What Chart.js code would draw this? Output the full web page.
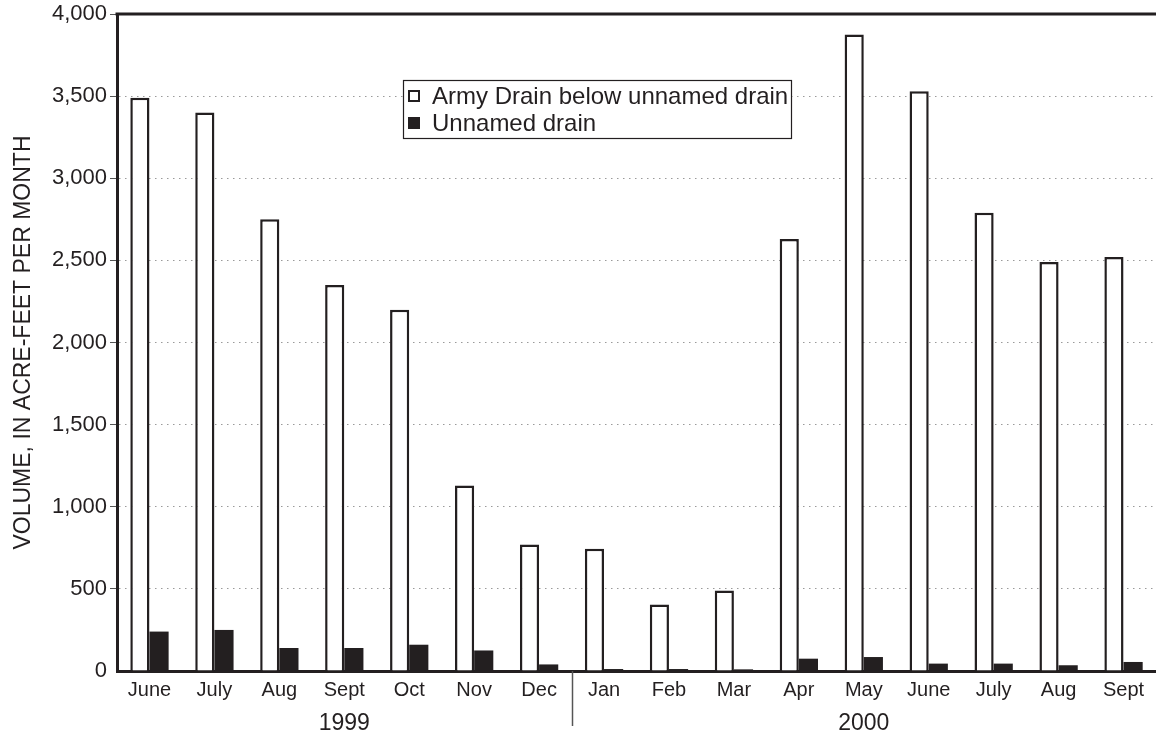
<!DOCTYPE html>
<html>
<head>
<meta charset="utf-8">
<script src="https://cdn.jsdelivr.net/npm/chart.js@4.4.1/dist/chart.umd.min.js"></script>
<style>
  html, body { margin: 0; padding: 0; background: #fff; }
  #wrap { width: 1156px; height: 738px; }
</style>
</head>
<body>
<div id="wrap"><canvas id="chart" width="1156" height="738"></canvas></div>
<script>
// monthly volumes, acre-feet, June 1999 - Sept 2000
const months = ['June', 'July', 'Aug', 'Sept', 'Oct', 'Nov', 'Dec',
  'Jan', 'Feb', 'Mar', 'Apr', 'May', 'June', 'July', 'Aug', 'Sept'];
const years = ['1999', '2000'];
const monthsPerYear = [7, 9];
const armyDrain = [3490, 3400, 2750, 2350, 2200, 1130, 770,
  745, 405, 490, 2630, 3875, 3530, 2790, 2490, 2520];
const unnamedDrain = [240, 250, 140, 140, 160, 125, 40,
  12, 12, 10, 75, 85, 45, 45, 35, 55];
const yMax = 4000;
const yStep = 500;

const FONT = "'Liberation Sans', Arial, Helvetica, sans-serif";
const INK = '#231f20';

const decorations = {
  id: 'decorations',
  afterDraw(chart) {
    const { ctx, chartArea, scales: { x } } = chart;
    ctx.save();

    // heavy line along the top of the plot
    ctx.strokeStyle = INK;
    ctx.lineWidth = 3;
    ctx.beginPath();
    ctx.moveTo(chartArea.left - 1.5, chartArea.top);
    ctx.lineTo(chart.width, chartArea.top);
    ctx.stroke();

    // year labels under the months, with a divider between years
    ctx.font = '23px ' + FONT;
    ctx.fillStyle = INK;
    ctx.textAlign = 'center';
    ctx.textBaseline = 'middle';
    let start = 0;
    years.forEach((yr, i) => {
      const end = start + monthsPerYear[i] - 1;
      const cx = (x.getPixelForValue(start) + x.getPixelForValue(end)) / 2;
      ctx.fillText(yr, cx, 724);
      if (i > 0) {
        const sx = Math.round((x.getPixelForValue(start - 1) + x.getPixelForValue(start)) / 2) + 0.5;
        ctx.strokeStyle = '#555';
        ctx.lineWidth = 1.5;
        ctx.beginPath();
        ctx.moveTo(sx, chartArea.bottom);
        ctx.lineTo(sx, 726);
        ctx.stroke();
      }
      start = end + 1;
    });

    // legend box
    const ds = chart.data.datasets;
    ctx.font = '24px ' + FONT;
    ctx.textAlign = 'left';
    const textX = 432;
    const widest = Math.max(...ds.map(d => ctx.measureText(d.label).width));
    const boxL = 403.5, boxT = 80.5;
    const boxR = Math.round(textX + widest + 3) + 0.5, boxB = 138.5;
    ctx.fillStyle = '#fff';
    ctx.fillRect(boxL, boxT, boxR - boxL, boxB - boxT);
    ctx.strokeStyle = INK;
    ctx.lineWidth = 1.2;
    ctx.strokeRect(boxL, boxT, boxR - boxL, boxB - boxT);
    const rows = [96, 123];
    ds.forEach((d, i) => {
      const cy = rows[i];
      if (d.backgroundColor === '#fff') {
        ctx.lineWidth = 2;
        ctx.strokeRect(409, cy - 5, 10, 10);
      } else {
        ctx.fillStyle = INK;
        ctx.fillRect(408, cy - 6, 12, 12);
      }
      ctx.fillStyle = INK;
      ctx.fillText(d.label, textX, cy + 1);
    });
    ctx.restore();
  }
};

new Chart(document.getElementById('chart'), {
  type: 'bar',
  data: {
    labels: months,
    datasets: [
      {
        label: 'Army Drain below unnamed drain',
        data: armyDrain,
        backgroundColor: '#fff',
        borderColor: INK,
        borderWidth: 2.5,
        categoryPercentage: 0.59,
        barPercentage: 1.0,
      },
      {
        label: 'Unnamed drain',
        data: unnamedDrain,
        backgroundColor: INK,
        borderWidth: 0,
        categoryPercentage: 0.59,
        barPercentage: 1.0,
      },
    ],
  },
  options: {
    responsive: false,
    animation: false,
    devicePixelRatio: 1,
    layout: { padding: { top: 14, left: 0, right: 0, bottom: 0 } },
    plugins: {
      legend: { display: false },
      tooltip: { enabled: false },
    },
    scales: {
      x: {
        z: 1,
        grid: { display: false, drawTicks: false },
        border: { color: INK, width: 3 },
        ticks: {
          color: INK,
          font: { family: FONT, size: 20 },
          padding: 7,
          autoSkip: false,
          maxRotation: 0,
        },
        afterFit(scale) {
          scale.height = 67;
          scale.paddingLeft = 0;
          scale.paddingRight = 0;
        },
      },
      y: {
        min: 0,
        max: yMax,
        grid: {
          color: (c) => (c.tick && (c.tick.value === 0 || c.tick.value === yMax)) ? 'rgba(0,0,0,0)' : '#9a9a9a',
          tickColor: (c) => (c.tick && c.tick.value === 0) ? 'rgba(0,0,0,0)' : '#555',
          tickLength: 7,
          lineWidth: 1,
        },
        border: { color: INK, width: 3, dash: [1.5, 4.5] },
        ticks: {
          stepSize: yStep,
          color: INK,
          font: { family: FONT, size: 22 },
          padding: 3,
          callback: (v) => v.toLocaleString('en-US'),
        },
        title: {
          display: true,
          text: 'VOLUME, IN ACRE-FEET PER MONTH',
          color: INK,
          font: { family: FONT, size: 23 },
          padding: { top: 10, bottom: 0 },
        },
        afterFit(scale) {
          scale.width = 117;
          scale.paddingTop = 0;
          scale.paddingBottom = 0;
        },
      },
    },
  },
  plugins: [decorations],
});
</script>
</body>
</html>
